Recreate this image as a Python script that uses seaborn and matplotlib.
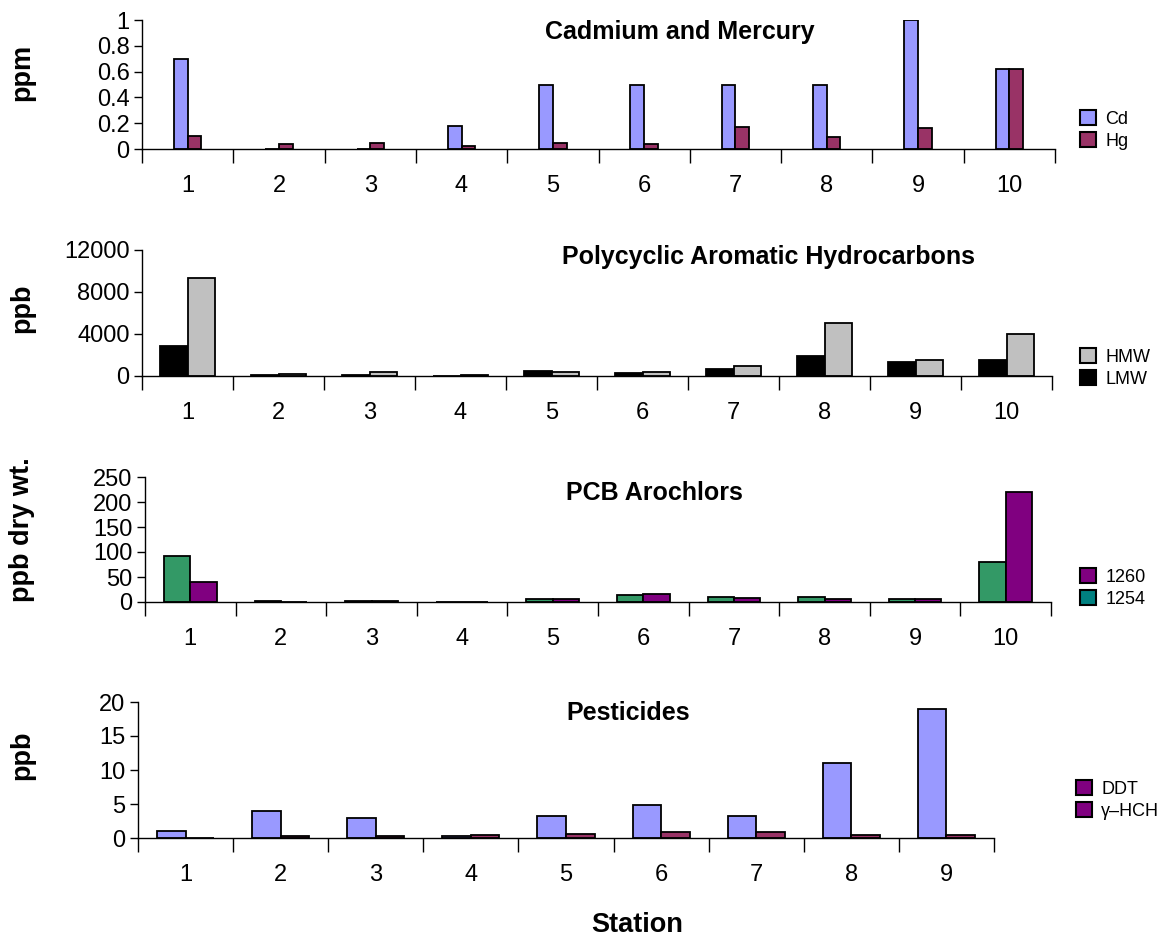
import matplotlib
matplotlib.use("Agg")
import matplotlib.pyplot as plt
import matplotlib.patches as mpatches
from matplotlib.ticker import FixedLocator, FuncFormatter
import seaborn as sns
import pandas as pd

sns.set_style("white")
plt.rcParams["font.family"] = ["Liberation Sans", "DejaVu Sans"]
plt.rcParams.update({
    "text.color": "black",
    "xtick.color": "black",
    "ytick.color": "black",
    "axes.edgecolor": "black",
})

# ---------- data ----------
stations10 = ["1", "2", "3", "4", "5", "6", "7", "8", "9", "10"]
stations9 = ["1", "2", "3", "4", "5", "6", "7", "8", "9"]

cd = [0.70, 0.0, 0.0, 0.18, 0.50, 0.50, 0.50, 0.50, 1.00, 0.62]
hg = [0.10, 0.04, 0.05, 0.02, 0.05, 0.04, 0.17, 0.09, 0.16, 0.62]

lmw = [2900, 60, 120, 0, 450, 300, 700, 1900, 1300, 1500]
hmw = [9300, 200, 400, 60, 400, 400, 950, 5000, 1550, 4000]

pcb_a = [92, 2, 2, 0, 6, 15, 11, 10, 6, 80]
pcb_b = [40, 0, 3, 0, 6, 16, 8, 7, 6, 220]

pest_a = [1.0, 4.0, 3.0, 0.3, 3.2, 4.8, 3.3, 11.0, 19.0]
pest_b = [0.0, 0.25, 0.25, 0.5, 0.6, 0.9, 0.9, 0.5, 0.5]


def long_df(stations, a, b):
    return pd.DataFrame({
        "station": stations * 2,
        "value": list(a) + list(b),
        "series": ["a"] * len(stations) + ["b"] * len(stations),
    })


fig = plt.figure(figsize=(11.61, 9.38), dpi=100)
W, H = 1161, 938


def add_panel(left, right, top, bottom):
    return fig.add_axes([left / W, 1 - bottom / H, (right - left) / W, (bottom - top) / H])


def style_panel(ax, stations, ymax, yticks, title, title_xy, ylabel, ycenter):
    n = len(stations)
    ax.set_xlim(-0.5, n - 0.5)
    ax.set_ylim(0, ymax)
    ax.set_yticks(yticks)
    ax.yaxis.set_major_formatter(FuncFormatter(lambda v, p: f"{v:g}"))
    ax.tick_params(axis="y", left=True, direction="out", length=6, width=1,
                   labelsize=17, pad=3)
    ax.tick_params(axis="x", which="major", length=0, labelsize=17, pad=19)
    ax.xaxis.set_minor_locator(FixedLocator([k - 0.5 for k in range(n + 1)]))
    ax.tick_params(axis="x", which="minor", bottom=True, direction="out",
                   length=10, width=1)
    sns.despine(ax=ax)
    for s in ["left", "bottom"]:
        ax.spines[s].set_linewidth(1)
    ax.set_xlabel("")
    ax.set_ylabel("")
    fig.text(title_xy[0] / W, 1 - title_xy[1] / H, title, ha="center", va="center",
             fontsize=18, fontweight="bold")
    fig.text(22 / W, 1 - ycenter / H, ylabel, rotation=90, ha="center", va="center",
             fontsize=19.5, fontweight="bold")


def add_legend(ax, labels, colors, x, y):
    handles = [mpatches.Patch(facecolor=c, edgecolor="black", linewidth=1.5, label=l)
               for l, c in zip(labels, colors)]
    ax.legend(handles=handles, loc="upper left", bbox_to_anchor=(x / W, 1 - y / H),
              bbox_transform=fig.transFigure, frameon=False, fontsize=13,
              handlelength=0.9, handleheight=0.9, handletextpad=0.5,
              labelspacing=0.25, borderaxespad=0, borderpad=0)


bar_kw = dict(x="station", y="value", hue="series", edgecolor="black",
              linewidth=1.3, legend=False, gap=0, errorbar=None, saturation=1)

# ---------- Cadmium and Mercury ----------
ax1 = add_panel(142, 1055, 20, 149)
sns.barplot(data=long_df(stations10, cd, hg), order=stations10, ax=ax1, width=0.3,
            palette=["#9999FF", "#993366"], **bar_kw)
style_panel(ax1, stations10, 1, [0, 0.2, 0.4, 0.6, 0.8, 1],
            "Cadmium and Mercury", (680, 32), "ppm", 72)
add_legend(ax1, ["Cd", "Hg"], ["#9999FF", "#993366"], 1080, 110)

# ---------- PAH ----------
ax2 = add_panel(142, 1052, 250, 376)
sns.barplot(data=long_df(stations10, lmw, hmw), order=stations10, ax=ax2, width=0.6,
            palette=["#000000", "#C0C0C0"], **bar_kw)
style_panel(ax2, stations10, 12000, [0, 4000, 8000, 12000],
            "Polycyclic Aromatic Hydrocarbons", (768, 257), "ppb", 308)
add_legend(ax2, ["HMW", "LMW"], ["#C0C0C0", "#000000"], 1080, 348)

# ---------- PCB ----------
ax3 = add_panel(145, 1051, 477, 602)
sns.barplot(data=long_df(stations10, pcb_a, pcb_b), order=stations10, ax=ax3, width=0.58,
            palette=["#339966", "#800080"], **bar_kw)
style_panel(ax3, stations10, 250, [0, 50, 100, 150, 200, 250],
            "PCB Arochlors", (654, 493), "ppb dry wt.", 530)
add_legend(ax3, ["1260", "1254"], ["#800080", "#008080"], 1080, 568)

# ---------- Pesticides ----------
ax4 = add_panel(138, 994, 702, 838)
sns.barplot(data=long_df(stations9, pest_a, pest_b), order=stations9, ax=ax4, width=0.6,
            palette=["#9999FF", "#993366"], **bar_kw)
style_panel(ax4, stations9, 20, [0, 5, 10, 15, 20],
            "Pesticides", (628, 713), "ppb", 755)
add_legend(ax4, ["DDT", "\u03b3\u2013HCH"], ["#800080", "#800080"], 1076, 780)

fig.text(637 / W, 1 - 925 / H, "Station", ha="center", va="center",
         fontsize=19.5, fontweight="bold")

fig.savefig("out.png", dpi=100)
